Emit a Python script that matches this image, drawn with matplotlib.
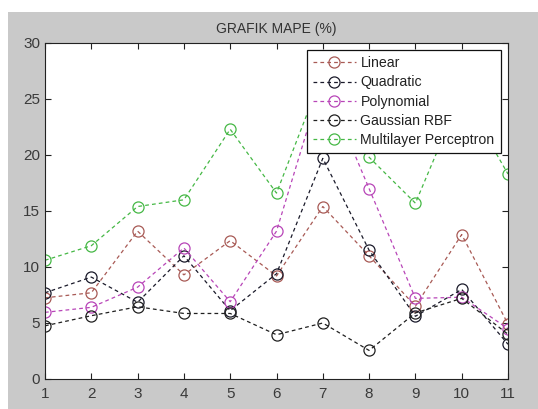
import numpy as np
import matplotlib.pyplot as plt
from matplotlib.patches import Rectangle

plt.rcParams['font.family'] = ['Liberation Sans', 'DejaVu Sans']

# values
x = [1, 2, 3, 4, 5, 6, 7, 8, 9, 10, 11]
linear = [7.25, 7.7, 13.2, 9.3, 12.35, 9.2, 15.4, 11.0, 6.5, 12.9, 4.9]
quadratic = [7.7, 9.1, 6.85, 11.0, 6.1, 9.4, 19.7, 11.5, 5.6, 8.0, 3.1]
polynomial = [5.95, 6.4, 8.2, 11.7, 6.9, 13.2, 26.8, 17.0, 7.2, 7.3, 4.5]
gaussian = [4.75, 5.65, 6.45, 5.85, 5.85, 3.95, 5.0, 2.55, 5.9, 7.2, 4.0]
mlp = [10.6, 11.9, 15.4, 16.0, 22.3, 16.6, 27.3, 19.8, 15.7, 25.5, 18.3]

series = [
    ('Linear', linear, '#a85a55'),
    ('Quadratic', quadratic, '#1a1a2a'),
    ('Polynomial', polynomial, '#b845b8'),
    ('Gaussian RBF', gaussian, '#202020'),
    ('Multilayer Perceptron', mlp, '#45b845'),
]

fig = plt.figure(figsize=(5.38, 4.09), dpi=100)
fig.patch.set_facecolor('white')
# grey MATLAB window background
fig.patches.append(Rectangle((8 / 538, 0), 1, 1 - 12 / 409, transform=fig.transFigure,
                             facecolor='#c9c9c9', edgecolor='none', zorder=-10))

ax = fig.add_axes([45 / 538, 30 / 409, 463 / 538, 336 / 409])
ax.set_facecolor('white')

for name, vals, col in series:
    ax.plot(x, vals, linestyle=(0, (3, 2.5)), lw=0.9, color=col, marker='o',
            markersize=8, markerfacecolor='none', markeredgewidth=0.9, label=name)

ax.set_xlim(1, 11)
ax.set_ylim(0, 30)
ax.set_xticks(x)
ax.set_yticks(np.arange(0, 31, 5))
ax.tick_params(direction='in', top=True, right=True, length=4, width=0.8,
               labelsize=11, colors='#222222', labelcolor='#3a3a3a')
ax.tick_params(axis='x', pad=6)
for s in ax.spines.values():
    s.set_linewidth(0.8)
    s.set_color('#222222')

ax.set_title('GRAFIK MAPE (%)', fontsize=10, color='#333333', pad=7)

leg = ax.legend(loc='upper right', bbox_to_anchor=(501 / 538, 1 - 50 / 409),
                bbox_transform=fig.transFigure, fontsize=10.2, handlelength=3.0,
                labelspacing=0.36, handletextpad=0.35, borderaxespad=0, fancybox=False,
                framealpha=1, edgecolor='#111111', borderpad=0.45)
leg.set_zorder(10)
leg.get_frame().set_linewidth(0.9)
for t in leg.get_texts():
    t.set_color('#222222')

fig.savefig('out.png', dpi=100, facecolor=fig.get_facecolor())
